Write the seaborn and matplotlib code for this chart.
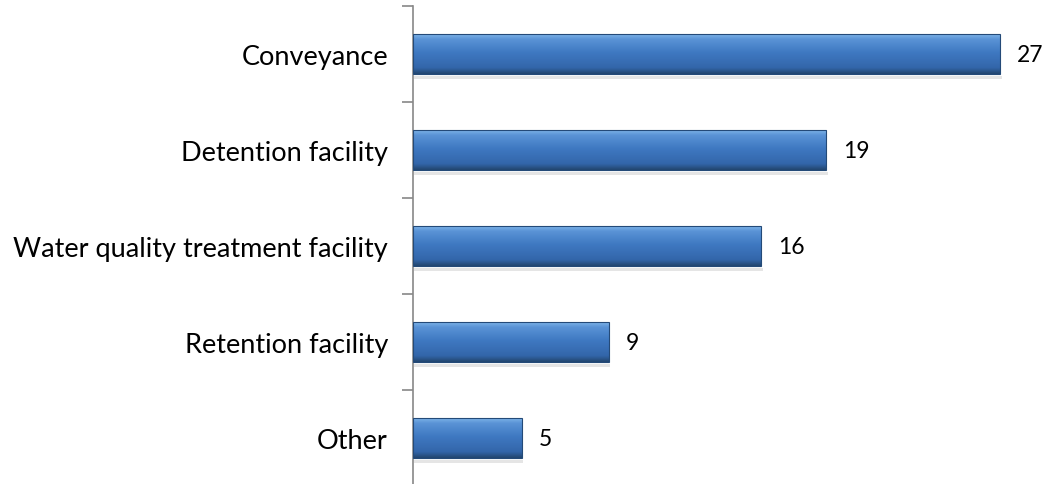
import matplotlib
matplotlib.use("Agg")
import matplotlib.pyplot as plt
import seaborn as sns
import numpy as np
import pandas as pd
from matplotlib.colors import LinearSegmentedColormap

categories = ["Conveyance", "Detention facility", "Water quality treatment facility",
              "Retention facility", "Other"]
values = [27, 19, 16, 9, 5]

df = pd.DataFrame({"category": categories, "value": values})

sns.set_style("white")
plt.rcParams["font.family"] = ["Lato", "DejaVu Sans"]

fig = plt.figure(figsize=(10.46, 4.85), dpi=100)
ax = fig.add_axes([413/1046, -2/485, 1 - 413/1046, 480/485])

sns.barplot(data=df, y="category", x="value", orient="h", color="#3C74BC",
            width=0.41, ax=ax, saturation=1)

cmap = LinearSegmentedColormap.from_list(
    "bev", [(0.0, "#7DB3E8"), (0.12, "#5A93D6"), (0.45, "#3F79C2"),
            (0.85, "#3366AA"), (1.0, "#22466F")])
grad = np.linspace(0, 1, 64).reshape(-1, 1)
for p in ax.patches:
    x0, y0 = p.get_x(), p.get_y()
    w, h = p.get_width(), p.get_height()
    p.set_edgecolor("#244A78")
    p.set_linewidth(0.8)
    ax.fill_between([x0 + 0.05, x0 + w + 0.08], y0 + h + 0.02, y0 + h + 0.06,
                    color="#000000", alpha=0.10, linewidth=0, zorder=1)
    im = ax.imshow(grad, cmap=cmap, aspect="auto",
                   extent=(x0, x0 + w, y0 + h, y0), zorder=2,
                   interpolation="bicubic")
    im.set_clip_path(p)
    p.set_zorder(3)
    p.set_facecolor("none")
    ax.text(x0 + w + 0.78, y0 + h / 2, f"{int(w)}", va="center", ha="left",
            fontsize=16.5, color="#000000")

ax.set_xlim(0, (1046 - 413) / 21.74)
ax.set_ylim(len(categories) - 0.5, -0.5)
ax.set_xlabel("")
ax.set_ylabel("")
ax.set_xticks([])
for s in ["top", "right", "bottom"]:
    ax.spines[s].set_visible(False)
ax.spines["left"].set_color("#888888")
ax.spines["left"].set_linewidth(1.2)

ax.set_yticks(np.arange(len(categories)))
ax.set_yticklabels(categories, fontsize=19.5, color="#000000")
ax.tick_params(axis="y", which="major", left=False, length=0, pad=18)
ax.set_yticks(np.arange(len(categories) + 1) - 0.5, minor=True)
ax.tick_params(axis="y", which="minor", left=True, length=8, width=1.2,
               color="#888888")

fig.savefig("out.png", dpi=100)
